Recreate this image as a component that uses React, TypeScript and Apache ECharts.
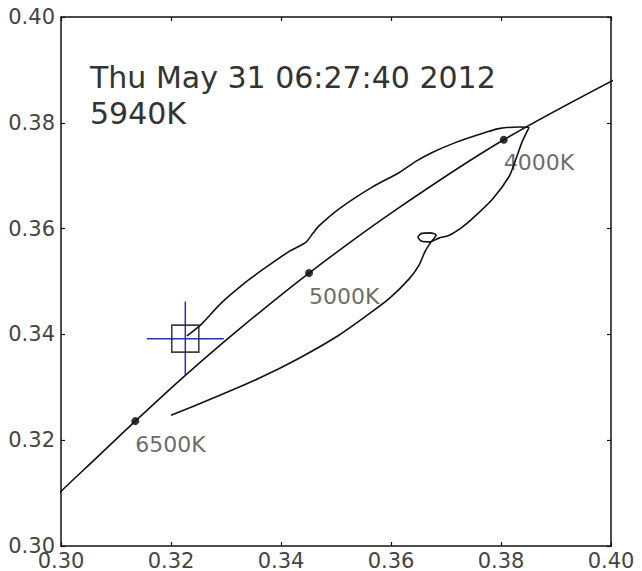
import React, { useEffect, useRef } from "react";
import * as echarts from "echarts";

// Planckian locus (CIE 1931 xy)
const locusX = [0.2952, 0.2991, 0.3064, 0.3135, 0.3221, 0.3324, 0.3451, 0.3608, 0.3805, 0.4053];
const locusY = [0.3048, 0.3094, 0.3166, 0.3236, 0.3318, 0.341, 0.3516, 0.3635, 0.3768, 0.3907];

// Reference white points marked on the locus
const refNames = ["6500K", "5000K", "4000K"];
const refX = [0.3135, 0.3451, 0.3805];
const refY = [0.3236, 0.3516, 0.3768];

// Trace of measured chromaticity over the day
const traceX = [
  0.32, 0.328, 0.336, 0.3433, 0.35, 0.3555, 0.3596, 0.3633, 0.3651, 0.3662,
  0.3671, 0.3682, 0.3671, 0.3656, 0.3649, 0.3656, 0.3671, 0.3687, 0.3705, 0.3727,
  0.3747, 0.3784, 0.3815, 0.3827, 0.3838, 0.3847, 0.3851, 0.3833, 0.3796, 0.376,
  0.3718, 0.3675, 0.3645, 0.3615, 0.3565, 0.3505, 0.3469, 0.3458, 0.3445, 0.3415,
  0.3373, 0.3336, 0.3293, 0.3256, 0.3247, 0.3229,
];
const traceY = [
  0.3247, 0.3281, 0.3317, 0.3355, 0.3395, 0.3435, 0.3467, 0.3505, 0.3531, 0.3557,
  0.3572, 0.3588, 0.3592, 0.3591, 0.3584, 0.3576, 0.3575, 0.3582, 0.3587, 0.3601,
  0.3618, 0.3655, 0.3699, 0.3731, 0.3763, 0.3783, 0.3791, 0.3792, 0.3789, 0.3778,
  0.3763, 0.3744, 0.3727, 0.3706, 0.3678, 0.3637, 0.3605, 0.3591, 0.3574, 0.3557,
  0.3527, 0.3499, 0.3461, 0.342, 0.3412, 0.3397,
];

// Current reading and its uncertainty
const currentX = 0.3226;
const currentY = 0.3392;
const errX = 0.007;
const errY = 0.007;

const titleLines = ["Thu May 31 06:27:40 2012", "5940K"];
const axisMin = 0.3;
const axisMax = 0.4;
const axisStep = 0.02;

const FONT = "'DejaVu Sans', 'Liberation Sans', sans-serif";

export default function App() {
  const ref = useRef<HTMLDivElement>(null);

  useEffect(() => {
    if (!ref.current) return;
    const chart = echarts.init(ref.current, undefined, { renderer: "svg" });

    const fmt = (v: number) => v.toFixed(2);
    const baseAxis = {
      type: "value" as const,
      min: axisMin,
      max: axisMax,
      interval: axisStep,
      splitLine: { show: false },
      axisLine: { show: true, onZero: false, lineStyle: { color: "#111", width: 1.5 } },
      axisTick: { show: true, inside: true, length: 4, lineStyle: { color: "#111", width: 1.2 } },
    };

    chart.setOption({
      animation: false,
      backgroundColor: "#fff",
      grid: { left: 61, right: 31, top: 17, bottom: 23, containLabel: false },
      xAxis: [
        {
          ...baseAxis,
          position: "bottom",
          axisLabel: {
            show: true,
            formatter: fmt,
            color: "#444",
            fontSize: 21,
            fontFamily: FONT,
            margin: 4,
            showMinLabel: true,
            showMaxLabel: true,
          },
        },
        { ...baseAxis, position: "top", axisLabel: { show: false } },
      ],
      yAxis: [
        {
          ...baseAxis,
          position: "left",
          axisLabel: {
            show: true,
            formatter: fmt,
            color: "#444",
            fontSize: 21,
            fontFamily: FONT,
            margin: 6,
            showMinLabel: true,
            showMaxLabel: true,
          },
        },
        { ...baseAxis, position: "right", axisLabel: { show: false } },
      ],
      graphic: titleLines.map((t, i) => ({
        type: "text",
        x: 90,
        y: 77 + i * 36.5,
        z: 10,
        style: {
          text: t,
          fill: "#333",
          fontSize: 30,
          fontFamily: FONT,
          align: "left",
          verticalAlign: "middle",
        },
      })),
      series: [
        {
          type: "line",
          data: locusX.map((x, i) => [x, locusY[i]]),
          showSymbol: false,
          symbol: "none",
          smooth: 0.3,
          clip: true,
          lineStyle: { color: "#111", width: 1.6 },
          silent: true,
        },
        {
          type: "line",
          data: traceX.map((x, i) => [x, traceY[i]]),
          showSymbol: false,
          symbol: "none",
          smooth: 0.25,
          clip: true,
          lineStyle: { color: "#111", width: 1.6 },
          silent: true,
        },
        {
          type: "scatter",
          data: refX.map((x, i) => ({ name: refNames[i], value: [x, refY[i]] })),
          symbol: "circle",
          symbolSize: 8,
          itemStyle: { color: "#000" },
          label: {
            show: true,
            formatter: (p: any) => p.name,
            position: [4, 16],
            color: "#444",
            fontSize: 22,
            fontFamily: FONT,
            align: "left",
            verticalAlign: "top",
          },
          silent: true,
        },
        {
          type: "line",
          data: [
            [currentX - errX, currentY],
            [currentX + errX, currentY],
          ],
          symbol: "none",
          lineStyle: { color: "#2a2ad0", width: 1.5 },
          silent: true,
        },
        {
          type: "line",
          data: [
            [currentX, currentY - errY],
            [currentX, currentY + errY],
          ],
          symbol: "none",
          lineStyle: { color: "#2a2ad0", width: 1.5 },
          silent: true,
        },
        {
          type: "scatter",
          data: [[currentX, currentY]],
          symbol: "rect",
          symbolSize: 27,
          itemStyle: { color: "none", borderColor: "#111", borderWidth: 1.6 },
          z: 5,
          silent: true,
        },
      ],
    });

    return () => chart.dispose();
  }, []);

  return (
    <div
      ref={ref}
      style={{ position: "absolute", left: 0, top: 0, width: 642, height: 571 }}
    />
  );
}
